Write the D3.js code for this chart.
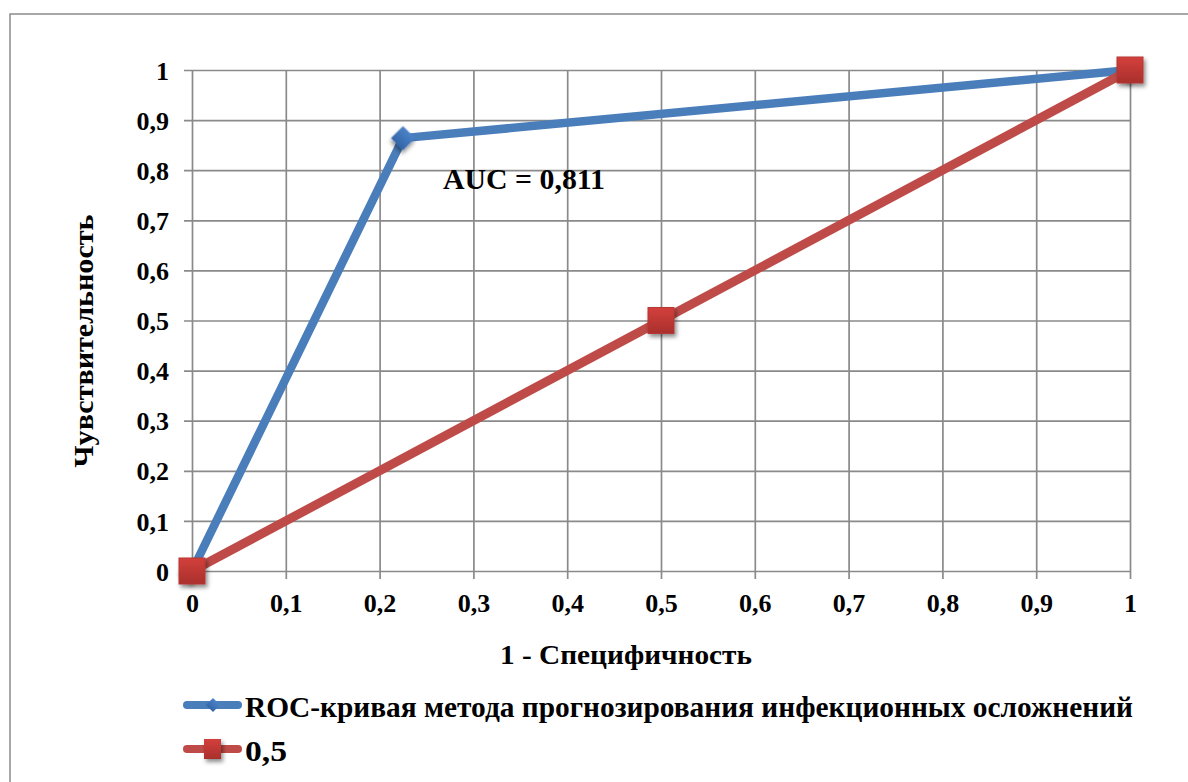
<!DOCTYPE html>
<html>
<head>
<meta charset="utf-8">
<script src="https://cdn.jsdelivr.net/npm/d3@7"></script>
<style>
  body { margin: 0; background: #fff; }
  svg { display: block; }
</style>
</head>
<body>
<script>
// ROC data
var rocX = [0, 0.225, 1];
var rocY = [0, 0.864, 1];
var refX = [0, 0.5, 1];
var refY = [0, 0.5, 1];
var tickValues = [0, 0.1, 0.2, 0.3, 0.4, 0.5, 0.6, 0.7, 0.8, 0.9, 1];
var tickLabels = ["0", "0,1", "0,2", "0,3", "0,4", "0,5", "0,6", "0,7", "0,8", "0,9", "1"];
var seriesNames = ["ROC-кривая метода прогнозирования инфекционных осложнений", "0,5"];
var aucLabel = "AUC = 0,811";
var xTitle = "1 - Специфичность";
var yTitle = "Чувствительность";

function drawChart() {
  var W = 1188, H = 782;
  var plotL = 192, plotR = 1130, plotT = 70, plotB = 571;
  var font = "'Liberation Serif', 'Times New Roman', Times, serif";

  var svg = d3.select("body").append("svg")
    .attr("width", W)
    .attr("height", H);

  var defs = svg.append("defs");
  var shadow = defs.append("filter").attr("id", "shadow")
    .attr("x", "-50%").attr("y", "-50%").attr("width", "200%").attr("height", "200%");
  shadow.append("feDropShadow")
    .attr("dx", 2).attr("dy", 3).attr("stdDeviation", 2)
    .attr("flood-color", "#000").attr("flood-opacity", 0.45);

  var redGrad = defs.append("linearGradient").attr("id", "redGrad")
    .attr("x1", 0).attr("y1", 0).attr("x2", 0).attr("y2", 1);
  redGrad.append("stop").attr("offset", "0%").attr("stop-color", "#d3403c");
  redGrad.append("stop").attr("offset", "100%").attr("stop-color", "#a92f2c");

  var blueGrad = defs.append("linearGradient").attr("id", "blueGrad")
    .attr("x1", 0).attr("y1", 0).attr("x2", 0).attr("y2", 1);
  blueGrad.append("stop").attr("offset", "0%").attr("stop-color", "#4a82c8");
  blueGrad.append("stop").attr("offset", "100%").attr("stop-color", "#3466a8");

  // chart border (left and top visible)
  svg.append("rect")
    .attr("x", 10).attr("y", 14)
    .attr("width", 1250).attr("height", 900)
    .attr("fill", "none")
    .attr("stroke", "#8c8c8c")
    .attr("stroke-width", 1.5);

  var x = d3.scaleLinear().domain([0, 1]).range([plotL, plotR]);
  var y = d3.scaleLinear().domain([0, 1]).range([plotB, plotT]);

  function fmt(d) { return tickLabels[Math.round(d * 10)]; }

  // gridlines + axes
  var yAxis = svg.append("g")
    .attr("transform", "translate(" + plotL + ",0)")
    .call(d3.axisLeft(y).tickValues(tickValues).tickFormat(fmt)
      .tickSizeInner(-(plotR - plotL)).tickSizeOuter(0).tickPadding(0));
  yAxis.select(".domain").remove();
  yAxis.selectAll(".tick line")
    .attr("x1", -8)
    .attr("stroke", "#8a8a8a").attr("stroke-width", 1.7);
  yAxis.selectAll(".tick text")
    .attr("x", -23)
    .attr("dy", "0.35em")
    .style("font-family", font).style("font-size", "26px").style("font-weight", "bold")
    .attr("fill", "#000");

  var xAxis = svg.append("g")
    .attr("transform", "translate(0," + plotB + ")")
    .call(d3.axisBottom(x).tickValues(tickValues).tickFormat(fmt)
      .tickSizeInner(-(plotB - plotT)).tickSizeOuter(0).tickPadding(0));
  xAxis.select(".domain").remove();
  xAxis.selectAll(".tick line")
    .attr("y1", 8)
    .attr("stroke", "#8a8a8a").attr("stroke-width", 1.7);
  xAxis.selectAll(".tick text")
    .attr("y", 41)
    .attr("dy", 0)
    .style("font-family", font).style("font-size", "26px").style("font-weight", "bold")
    .attr("fill", "#000");

  // axis titles
  svg.append("text")
    .attr("x", 626).attr("y", 664)
    .attr("text-anchor", "middle")
    .attr("textLength", 252).attr("lengthAdjust", "spacingAndGlyphs")
    .style("font-family", font).style("font-size", "28px").style("font-weight", "bold")
    .text(xTitle);

  svg.append("text")
    .attr("transform", "translate(93,341) rotate(-90)")
    .attr("text-anchor", "middle")
    .attr("textLength", 253).attr("lengthAdjust", "spacingAndGlyphs")
    .style("font-family", font).style("font-size", "28px").style("font-weight", "bold")
    .text(yTitle);

  // lines
  var line = d3.line().x(function (d) { return x(d[0]); }).y(function (d) { return y(d[1]); });
  var rocPts = rocX.map(function (v, i) { return [v, rocY[i]]; });
  var refPts = refX.map(function (v, i) { return [v, refY[i]]; });

  svg.append("path")
    .datum(rocPts)
    .attr("d", line)
    .attr("fill", "none")
    .attr("stroke", "#4a7ebb")
    .attr("stroke-width", 8.5)
    .attr("stroke-linejoin", "round");

  svg.selectAll(".diamond")
    .data(rocPts)
    .enter().append("rect")
    .attr("class", "diamond")
    .attr("x", -8.5).attr("y", -8.5)
    .attr("width", 17).attr("height", 17)
    .attr("transform", function (d) { return "translate(" + x(d[0]) + "," + y(d[1]) + ") rotate(45)"; })
    .attr("fill", "url(#blueGrad)")
    .attr("filter", "url(#shadow)");

  svg.append("path")
    .datum(refPts)
    .attr("d", line)
    .attr("fill", "none")
    .attr("stroke", "#be4b48")
    .attr("stroke-width", 9)
    .attr("stroke-linejoin", "round");

  svg.selectAll(".square")
    .data(refPts)
    .enter().append("rect")
    .attr("class", "square")
    .attr("x", function (d) { return x(d[0]) - 13; })
    .attr("y", function (d) { return y(d[1]) - 13; })
    .attr("width", 26).attr("height", 26)
    .attr("fill", "url(#redGrad)")
    .attr("stroke", "#b53734").attr("stroke-width", 1)
    .attr("filter", "url(#shadow)");

  // AUC annotation
  svg.append("text")
    .attr("x", 443).attr("y", 189)
    .attr("textLength", 162).attr("lengthAdjust", "spacingAndGlyphs")
    .style("font-family", font).style("font-size", "29px").style("font-weight", "bold")
    .text(aucLabel);

  // legend
  var legendY = [705, 749];
  var legendColors = ["#4a7ebb", "#be4b48"];
  var legendLen = [888, 42];

  seriesNames.forEach(function (name, i) {
    var g = svg.append("g").attr("transform", "translate(0," + legendY[i] + ")");
    g.append("line")
      .attr("x1", 187).attr("x2", 238)
      .attr("stroke", legendColors[i])
      .attr("stroke-width", 8)
      .attr("stroke-linecap", "round");
    if (i === 0) {
      g.append("rect")
        .attr("x", -5).attr("y", -5).attr("width", 10).attr("height", 10)
        .attr("transform", "translate(213,0) rotate(45)")
        .attr("fill", "url(#blueGrad)");
    } else {
      g.append("rect")
        .attr("x", 204).attr("y", -10).attr("width", 17).attr("height", 20)
        .attr("fill", "url(#redGrad)")
        .attr("filter", "url(#shadow)");
    }
    g.append("text")
      .attr("x", 245).attr("y", 12)
      .attr("textLength", legendLen[i]).attr("lengthAdjust", "spacingAndGlyphs")
      .style("font-family", font).style("font-size", "29px").style("font-weight", "bold")
      .text(name);
  });
}

drawChart();
</script>
</body>
</html>
